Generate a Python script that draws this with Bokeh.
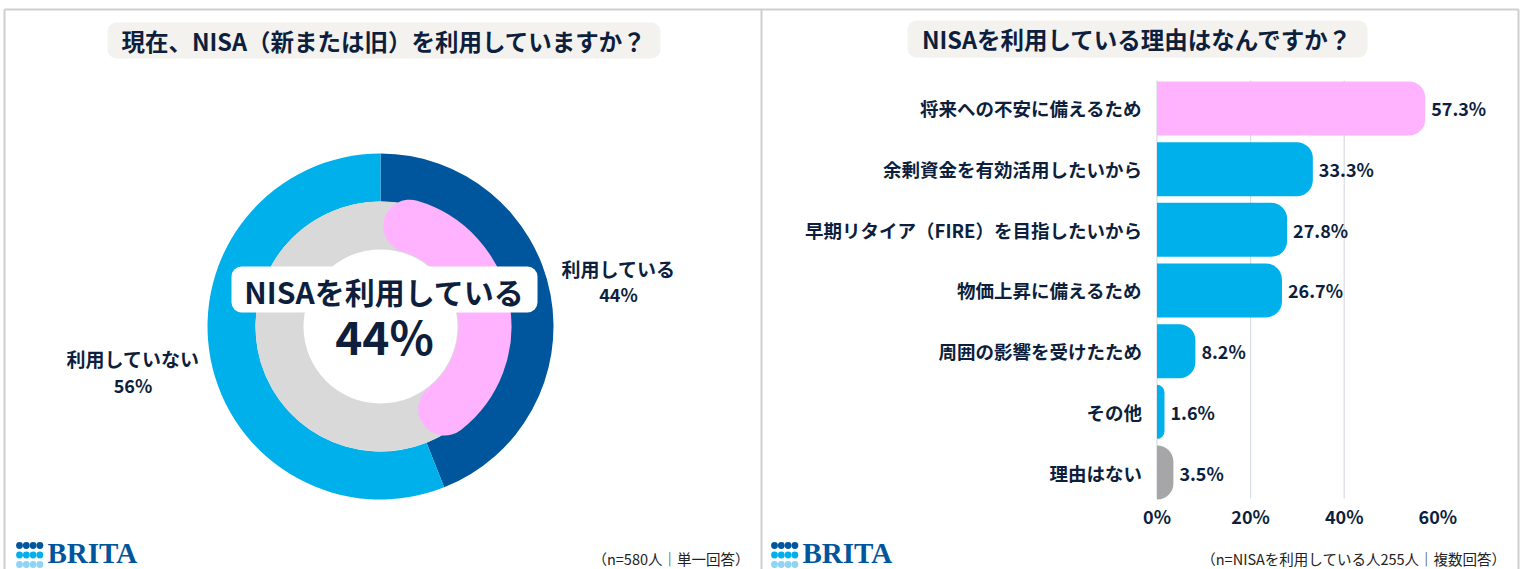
import math
from bokeh.plotting import figure
from bokeh.models import Range1d
from bokeh.core.properties import value
from bokeh.embed import file_html
from bokeh.resources import INLINE

# ---------------- data ----------------
donut_title = "現在、NISA（新または旧）を利用していますか？"
donut_labels = ["利用している", "利用していない"]
donut_shares = [44, 56]
donut_center_text = "NISAを利用している"
donut_note = "（n=580人｜単一回答）"

bar_title = "NISAを利用している理由はなんですか？"
reasons = ["将来への不安に備えるため", "余剰資金を有効活用したいから",
           "早期リタイア（FIRE）を目指したいから", "物価上昇に備えるため",
           "周囲の影響を受けたため", "その他", "理由はない"]
reason_pct = [57.3, 33.3, 27.8, 26.7, 8.2, 1.6, 3.5]
pct_ticks = [0, 20, 40, 60]
bar_note = "（n=NISAを利用している人255人｜複数回答）"
logo_text = "BRITA"

# ---------------- style ----------------
FONT = value("Noto Sans CJK JP")
NAVY = "#0e1f3d"
DARK = "#00569d"
LIGHT = "#00b0eb"
PALE = "#8fd3f5"
PINK = "#ffb3ff"
RING_GREY = "#d9d9d9"
BAR_GREY = "#a6a6a6"
GRID = "#d6dae1"
BORDER = "#cfcfcf"

W, H = 1522, 569
p = figure(width=W, height=H, x_range=Range1d(0, W), y_range=Range1d(-H, 0),
           output_backend="svg", toolbar_location=None, x_axis_type=None, y_axis_type=None,
           min_border=0, outline_line_color=None, background_fill_color="white",
           border_fill_color="white")
p.grid.visible = False

# panel borders
p.segment(x0=[4, 4, 761, 1518], y0=[-9, -9, -9, -9], x1=[1518, 4, 761, 1518],
          y1=[-9, -569, -569, -569], line_color=BORDER, line_width=2)

# title boxes
p.quad(left=[107, 907], right=[660, 1367], top=[-22, -20], bottom=[-58, -57],
       fill_color="#f3f2ef", line_color=None, border_radius=9)
p.text(x=[383.5, 1137], y=[-40, -38.5], text=[donut_title, bar_title], text_align="center",
       text_baseline="middle", text_font=FONT, text_font_style="bold",
       text_font_size="23.5px", text_color=NAVY)

# ---------------- donut ----------------
cx, cy = 380, -326
starts, ends, cum = [], [], 0.0
for s in donut_shares:
    starts.append(math.pi / 2 - 2 * math.pi * cum / 100)
    cum += s
    ends.append(math.pi / 2 - 2 * math.pi * cum / 100)
p.annular_wedge(x=cx, y=cy, inner_radius=125, outer_radius=173, start_angle=starts,
                end_angle=ends, direction="clock", fill_color=[DARK, LIGHT], line_color=None)
p.annulus(x=cx, y=cy, inner_radius=77, outer_radius=125, fill_color=RING_GREY, line_color=None)

arc_r, arc_w = 104.5, 53
cap = (arc_w / 2) / arc_r * 1.12
p.arc(x=cx, y=cy, radius=arc_r, start_angle=starts[0] - cap, end_angle=ends[0] + cap,
      direction="clock", line_width=arc_w, line_color=PINK, line_cap="round")

# center label box
p.quad(left=231, right=537, top=-266, bottom=-312, fill_color="white", line_color=None,
       border_radius=10)
p.text(x=[384], y=[-290], text=[donut_center_text], text_align="center", text_baseline="middle",
       text_font=FONT, text_font_style="bold", text_font_size="30px", text_color=NAVY)
p.text(x=[384], y=[-334], text=[f"{donut_shares[0]}%"], text_align="center",
       text_baseline="middle", text_font=FONT, text_font_style="bold", text_font_size="46px",
       text_color=NAVY)

# outside labels: block anchored just outside the ring, aligned away from the centre
lab_r, lab_ry, lab_fs = 181, 242, 19
lx, ly = [], []
for a0, a1, name in zip(starts, ends, donut_labels):
    mid = (a0 + a1) / 2
    side = 1 if math.cos(mid) >= 0 else -1
    half_w = len(name) * lab_fs / 2
    lx.append(cx + side * (lab_r + half_w))
    ly.append(cy + lab_ry * math.sin(mid))
p.text(x=lx, y=[v + 13 for v in ly], text=donut_labels, text_align="center",
       text_baseline="middle", text_font=FONT, text_font_style="bold",
       text_font_size=f"{lab_fs}px", text_color=NAVY)
p.text(x=lx, y=[v - 13 for v in ly], text=[f"{s}%" for s in donut_shares], text_align="center",
       text_baseline="middle", text_font=FONT, text_font_style="bold", text_font_size="18px",
       text_color=NAVY)

# ---------------- bars ----------------
px_per_pct, zero_px = 4.68, 1156.5
p.extra_x_ranges = {"pct": Range1d((0 - zero_px) / px_per_pct, (W - zero_px) / px_per_pct)}
row_px, last_row_px = 60.67, 472
p.extra_y_ranges = {"rows": Range1d(-(H - last_row_px) / row_px, last_row_px / row_px)}

n = len(reasons)
ypos = [n - 1 - i for i in range(n)]
colors = [PINK] + [LIGHT] * (n - 2) + [BAR_GREY]

grid_x = pct_ticks[:-1]
p.segment(x0=grid_x, x1=grid_x, y0=[-0.43] * len(grid_x), y1=[n - 1 + 0.46] * len(grid_x),
          line_color=GRID, line_width=1.2, x_range_name="pct", y_range_name="rows")
p.hbar(y=ypos, left=0, right=reason_pct, height=0.89, fill_color=colors, line_color=None,
       border_radius=(0, 16, 16, 0), x_range_name="pct", y_range_name="rows")
p.text(x=[0] * n, y=ypos, text=reasons, x_offset=-15, text_align="right", text_baseline="middle",
       text_font=FONT, text_font_style="bold", text_font_size="18.5px", text_color=NAVY,
       x_range_name="pct", y_range_name="rows")
p.text(x=reason_pct, y=ypos, text=[f"{v:.1f}%" for v in reason_pct], x_offset=6,
       text_align="left", text_baseline="middle", text_font=FONT, text_font_style="bold",
       text_font_size="18px", text_color=NAVY, x_range_name="pct", y_range_name="rows")
p.text(x=pct_ticks, y=[-0.71] * len(pct_ticks), text=[f"{t}%" for t in pct_ticks],
       text_align="center", text_baseline="middle", text_font=FONT, text_font_style="bold",
       text_font_size="18px", text_color=NAVY, x_range_name="pct", y_range_name="rows")

# ---------------- footnotes ----------------
p.text(x=[749, 1506], y=[-558, -558], text=[donut_note, bar_note], text_align="right",
       text_baseline="middle", text_font=FONT, text_font_size="14.5px", text_color="#222222")

# ---------------- logos ----------------
for off in (0, 755):
    dx, dy, dc = [], [], []
    for r, col in enumerate([DARK, LIGHT, PALE]):
        for c in range(4):
            dx.append(off + 19 + c * 6.8)
            dy.append(-(545 + r * 9.5))
            dc.append(col)
    p.scatter(x=dx, y=dy, marker="circle", size=6.8, fill_color=dc, line_color=None)
    p.text(x=[off + 47], y=[-552], text=[logo_text], text_align="left", text_baseline="middle",
           text_font=value("Liberation Serif"), text_font_style="bold", text_font_size="29px",
           text_color=DARK)

open("out.html", "w").write(file_html(p, INLINE))
